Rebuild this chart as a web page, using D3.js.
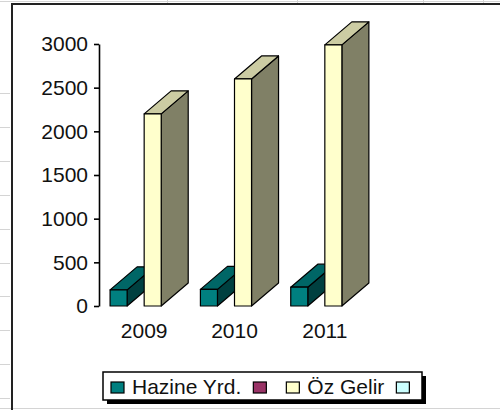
<!DOCTYPE html>
<html>
<head>
<meta charset="utf-8">
<script src="https://cdn.jsdelivr.net/npm/d3@7"></script>
<style>
  body { margin: 0; background: #fff; }
  svg { display: block; font-family: "Liberation Sans", Arial, sans-serif; }
</style>
</head>
<body>
<svg width="500" height="410"></svg>
<script>
const years = ['2009', '2010', '2011'];
const seriesNames = ['Hazine Yrd.', '', 'Öz Gelir', ''];
const hazine = [185, 190, 215];
const plum = [0, 0, 0];
const ozGelir = [2200, 2600, 2990];
const cyan = [0, 0, 0];
const yTicks = [0, 500, 1000, 1500, 2000, 2500, 3000];
const colors = ['#008080', '#993366', '#ffffcc', '#ccffff'];

const values = [hazine, plum, ozGelir, cyan];
const svg = d3.select('svg');
const fontSize = 21;

// spreadsheet behind the chart
const grid = svg.append('g').attr('stroke', '#d4d4d4').attr('stroke-width', 1);
d3.range(93, 410, 33.9).forEach(y => {
  grid.append('line').attr('x1', 0).attr('x2', 10).attr('y1', Math.round(y) + 0.5).attr('y2', Math.round(y) + 0.5);
});
grid.append('line').attr('x1', 0).attr('x2', 500).attr('y1', 1.5).attr('y2', 1.5);
[167, 297, 423, 483].forEach(x => {
  grid.append('line').attr('x1', x + 0.5).attr('x2', x + 0.5).attr('y1', 0).attr('y2', 3);
});
grid.append('line').attr('x1', 0).attr('x2', 500).attr('y1', 408.5).attr('y2', 408.5);

// chart frame
svg.append('path')
  .attr('d', 'M12,410V4H500')
  .attr('fill', 'none')
  .attr('stroke', '#222')
  .attr('stroke-width', 2);

const y = d3.scaleLinear().domain([0, 3000]).range([306, 44]);
const x0 = d3.scaleBand().domain(years).range([99, 370]);
const x1 = d3.scaleBand().domain(d3.range(4)).range([0, x0.bandwidth()]).paddingOuter(0.65);
const dx = 27, dy = 23;

function shade(c, k) {
  const r = d3.rgb(c);
  return d3.rgb(r.r * k, r.g * k, r.b * k).formatHex();
}

const bars = [];
years.forEach((yr, i) => {
  values.forEach((vals, s) => {
    if (vals[i] > 0) bars.push({ year: yr, s, v: vals[i] });
  });
});

const barG = svg.append('g')
  .attr('stroke', '#000')
  .attr('stroke-width', 1.2)
  .attr('stroke-linejoin', 'round');

bars.forEach(d => {
  const xl = x0(d.year) + x1(d.s);
  const xr = xl + x1.bandwidth();
  const yt = y(d.v);
  const yb = y(0);
  const g = barG.append('g');
  // side
  g.append('path')
    .attr('d', `M${xr},${yb}L${xr + dx},${yb - dy}L${xr + dx},${yt - dy}L${xr},${yt}Z`)
    .attr('fill', shade(colors[d.s], 0.5));
  // top
  g.append('path')
    .attr('d', `M${xl},${yt}L${xl + dx},${yt - dy}L${xr + dx},${yt - dy}L${xr},${yt}Z`)
    .attr('fill', shade(colors[d.s], 0.8));
  // front
  g.append('rect')
    .attr('x', xl).attr('y', yt)
    .attr('width', xr - xl).attr('height', yb - yt)
    .attr('fill', colors[d.s]);
});

// value axis
const yAxis = svg.append('g')
  .attr('transform', 'translate(99,0)')
  .call(d3.axisLeft(y).tickValues(yTicks).tickFormat(d3.format('d'))
    .tickSize(5).tickSizeOuter(0).tickPadding(6));
yAxis.select('.domain').attr('stroke', '#000').attr('stroke-width', 1.6);
yAxis.selectAll('.tick line').attr('stroke', '#000').attr('stroke-width', 1.6);
yAxis.selectAll('.tick text').attr('font-size', fontSize).attr('fill', '#111')
  .attr('font-family', '"Liberation Sans", Arial, sans-serif');

// category labels
svg.append('g').selectAll('text')
  .data(years)
  .join('text')
  .attr('x', d => x0(d) + x0.bandwidth() / 2)
  .attr('y', 338)
  .attr('text-anchor', 'middle')
  .attr('font-size', fontSize)
  .attr('fill', '#111')
  .text(d => d);

// legend
const lx = 103, ly = 372, lw = 319, lh = 28;
svg.append('rect').attr('x', lx + 4).attr('y', ly + 4).attr('width', lw).attr('height', lh).attr('fill', '#000');
svg.append('rect').attr('x', lx).attr('y', ly).attr('width', lw).attr('height', lh)
  .attr('fill', '#fff').attr('stroke', '#000').attr('stroke-width', 1.5);

let cx = lx + 8;
seriesNames.forEach((name, s) => {
  svg.append('rect')
    .attr('x', cx).attr('y', ly + 10).attr('width', 13).attr('height', 11)
    .attr('fill', colors[s]).attr('stroke', '#000').attr('stroke-width', 1.2);
  cx += 21;
  if (name) {
    const t = svg.append('text')
      .attr('x', cx).attr('y', ly + 22)
      .attr('font-size', fontSize).attr('fill', '#111')
      .text(name);
    cx += t.node().getComputedTextLength() + 12;
  } else {
    cx += 12;
  }
});
</script>
</body>
</html>
